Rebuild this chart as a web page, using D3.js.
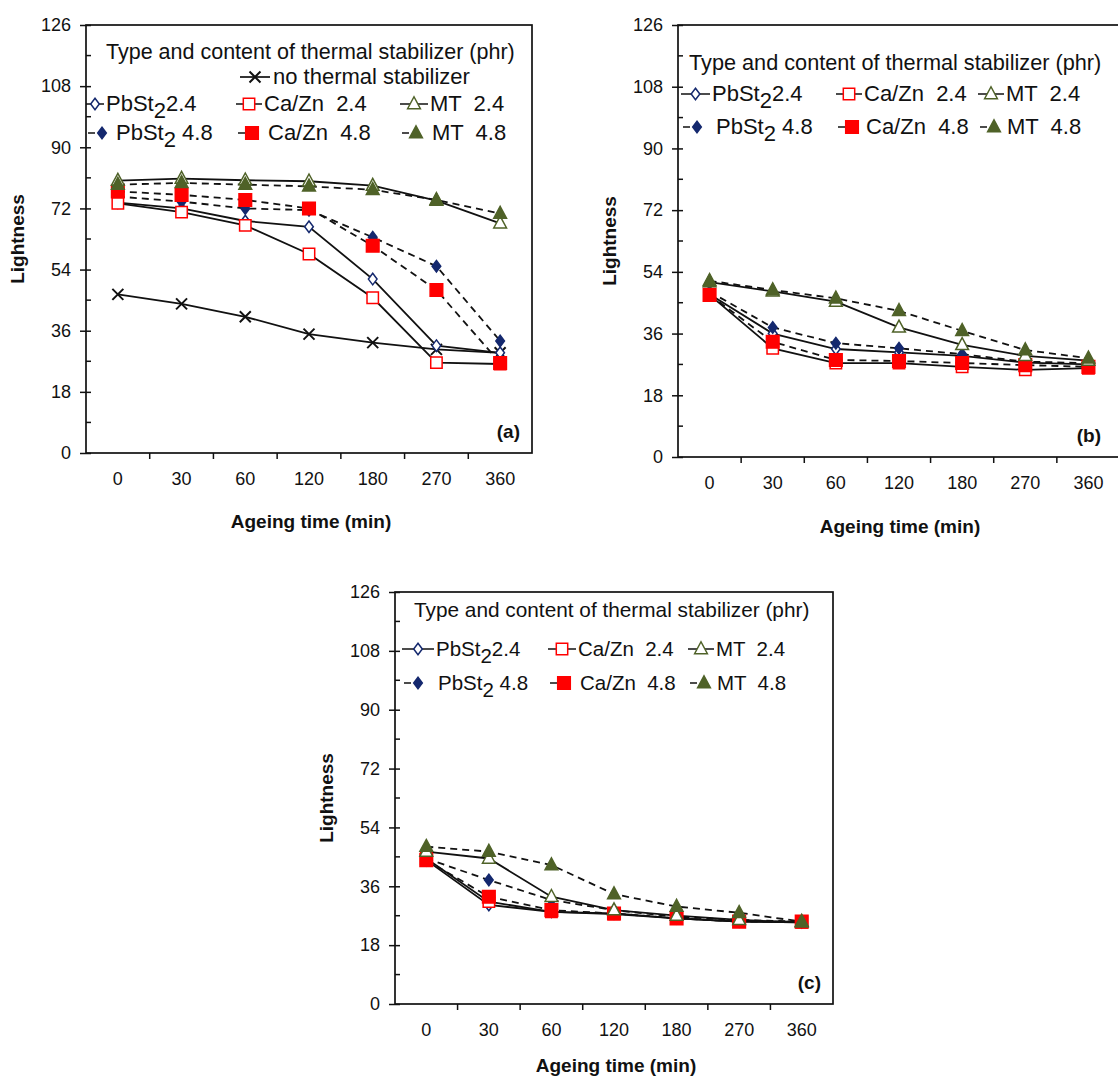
<!DOCTYPE html>
<html>
<head>
<meta charset="utf-8">
<script src="https://cdn.jsdelivr.net/npm/d3@7"></script>
<style>
  body { margin: 0; background: #fff; }
  text { font-family: "Liberation Sans", Arial, sans-serif; fill: #111; white-space: pre; }
</style>
</head>
<body>
<svg id="chart" width="1118" height="1081"></svg>
<script>
'use strict';

// ageing time categories and y ticks
const times = ['0', '30', '60', '120', '180', '270', '360'];
const yTicks = [0, 18, 36, 54, 72, 90, 108, 126];

// panel (a)
const aNone = [46.7, 43.9, 40.1, 35.0, 32.5, 30.5, 29.5];
const aPb24 = [73.7, 72.0, 68.3, 66.6, 51.2, 31.6, 29.5];
const aPb48 = [75.5, 74.0, 72.0, 71.5, 63.5, 55.0, 33.0];
const aCa24 = [73.5, 70.9, 67.0, 58.6, 45.7, 26.6, 26.2];
const aCa48 = [77.0, 76.0, 74.5, 72.0, 61.0, 48.0, 26.5];
const aMt24 = [80.2, 80.8, 80.3, 80.0, 78.7, 74.3, 67.6];
const aMt48 = [79.0, 79.5, 79.0, 78.5, 77.5, 74.5, 70.5];

// panel (b)
const bPb24 = [47.5, 36.0, 31.5, 30.5, 29.5, 27.5, 27.0];
const bPb48 = [48.2, 37.8, 33.2, 31.7, 30.0, 27.8, 27.4];
const bCa24 = [47.3, 31.7, 27.4, 27.4, 26.3, 25.4, 25.9];
const bCa48 = [47.3, 33.6, 28.3, 28.0, 27.4, 26.8, 26.3];
const bMt24 = [51.0, 48.3, 45.3, 37.8, 32.7, 29.5, 28.1];
const bMt48 = [51.4, 48.7, 46.3, 42.6, 36.8, 31.2, 28.8];

// panel (c)
const cPb24 = [44.0, 30.3, 28.2, 27.7, 26.2, 25.2, 25.0];
const cPb48 = [44.5, 37.9, 31.8, 28.7, 26.7, 25.7, 25.2];
const cCa24 = [44.5, 31.3, 28.2, 27.5, 26.2, 25.2, 25.0];
const cCa48 = [44.0, 32.8, 28.7, 27.7, 26.2, 25.2, 25.2];
const cMt24 = [46.6, 44.5, 32.8, 28.7, 27.0, 25.7, 25.0];
const cMt48 = [48.1, 46.6, 42.5, 33.6, 29.8, 27.9, 25.2];

const NAVY = '#14286e';
const RED = '#ff0000';
const OLIVE = '#4f6228';

const STYLES = {
    none: {shape: 'x', color: '#111', filled: false, dash: false},
    pb24: {shape: 'diamond', color: NAVY, filled: false, dash: false},
    pb48: {shape: 'diamond', color: NAVY, filled: true, dash: true},
    ca24: {shape: 'square', color: RED, filled: false, dash: false},
    ca48: {shape: 'square', color: RED, filled: true, dash: true},
    mt24: {shape: 'triangle', color: OLIVE, filled: false, dash: false},
    mt48: {shape: 'triangle', color: OLIVE, filled: true, dash: true}
};

const panels = [
    {
        label: '(a)', x0: 86, x1: 532, y0: 25, y1: 453, titleDy: 75,
        series: {none: aNone, pb24: aPb24, pb48: aPb48, ca24: aCa24, ca48: aCa48, mt24: aMt24, mt48: aMt48},
        legend: {
            title: [106, 59], titleFont: 21.5, font: 22, none: [240, 84],
            row1: 111, row2: 140,
            cols: [[86, 106, 116], [236, 264, 268], [400, 430, 432]]
        }
    },
    {
        label: '(b)', x0: 678, x1: 1120, y0: 25, y1: 457, titleDy: 76,
        series: {pb24: bPb24, pb48: bPb48, ca24: bCa24, ca48: bCa48, mt24: bMt24, mt48: bMt48},
        legend: {
            title: [689, 70], titleFont: 21.7, font: 22,
            row1: 101, row2: 134,
            cols: [[681, 712, 716], [836, 864, 866], [978, 1006, 1007]]
        }
    },
    {
        label: '(c)', x0: 395, x1: 833, y0: 592, y1: 1004, titleDy: 68,
        series: {pb24: cPb24, pb48: cPb48, ca24: cCa24, ca48: cCa48, mt24: cMt24, mt48: cMt48},
        legend: {
            title: [414, 617], titleFont: 20.8, font: 20.5,
            row1: 656, row2: 690,
            cols: [[402, 436, 438], [548, 578, 580], [688, 716, 717]]
        }
    }
];

const svg = d3.select('#chart');

function markerPath(shape, r) {
    if (shape === 'diamond') {
        return `M0,${-r * 1.2}L${r * 0.9},0L0,${r * 1.2}L${-r * 0.9},0Z`;
    }
    if (shape === 'square') {
        return `M${-r},${-r}h${2 * r}v${2 * r}h${-2 * r}Z`;
    }
    if (shape === 'triangle') {
        return `M0,${-r * 1.25}L${r * 1.1},${r * 0.8}L${-r * 1.1},${r * 0.8}Z`;
    }
    return `M${-r},${-r}L${r},${r}M${-r},${r}L${r},${-r}`;
}

function markerSize(key) {
    const s = STYLES[key];
    if (s.shape === 'square') return s.filled ? 6.3 : 5.7;
    if (s.shape === 'triangle') return 5.8;
    if (s.shape === 'diamond') return 4.8;
    return 5.5;
}

function drawMarker(g, key, cx, cy) {
    const s = STYLES[key];
    g.append('path')
        .attr('transform', `translate(${cx},${cy})`)
        .attr('d', markerPath(s.shape, markerSize(key)))
        .attr('fill', s.shape === 'x' ? 'none' : (s.filled ? s.color : '#fff'))
        .attr('stroke', s.color)
        .attr('stroke-width', s.shape === 'x' ? 2 : 1.5);
}

function drawPanel(p) {
    const g = svg.append('g');

    const x = d3.scaleBand().domain(times).range([p.x0, p.x1]);
    const y = d3.scaleLinear().domain([0, 126]).range([p.y1, p.y0]);

    // frame
    g.append('rect')
        .attr('x', p.x0).attr('y', p.y0)
        .attr('width', p.x1 - p.x0).attr('height', p.y1 - p.y0)
        .attr('fill', 'none').attr('stroke', '#111').attr('stroke-width', 1.7);

    // y axis
    const gy = g.append('g')
        .attr('transform', `translate(${p.x0},0)`)
        .call(d3.axisLeft(y).tickValues(yTicks).tickSize(6).tickPadding(9));
    gy.select('.domain').remove();
    gy.selectAll('.tick line').attr('stroke', '#111').attr('stroke-width', 1.5);
    gy.selectAll('.tick').append('line').attr('x2', 5).attr('stroke', '#111').attr('stroke-width', 1.5);
    gy.selectAll('.tick text').attr('font-size', 18).attr('fill', '#111');
    gy.selectAll('.minor')
        .data(d3.range(9, 126, 18))
        .enter()
        .append('line')
        .attr('x1', 0).attr('x2', 5)
        .attr('y1', (d) => y(d)).attr('y2', (d) => y(d))
        .attr('stroke', '#111').attr('stroke-width', 1.5);

    // x axis labels
    const gx = g.append('g')
        .attr('transform', `translate(0,${p.y1})`)
        .call(d3.axisBottom(x).tickSize(0).tickPadding(19));
    gx.select('.domain').remove();
    gx.selectAll('.tick text').attr('font-size', 18).attr('fill', '#111');

    // x ticks on category boundaries
    g.selectAll('.xb')
        .data(d3.range(1, times.length))
        .enter()
        .append('line')
        .attr('x1', (i) => p.x0 + i * x.step()).attr('x2', (i) => p.x0 + i * x.step())
        .attr('y1', p.y1).attr('y2', p.y1 + 6)
        .attr('stroke', '#111').attr('stroke-width', 1.5);

    // axis titles
    g.append('text')
        .attr('transform', `translate(${p.x0 - 62},${(p.y0 + p.y1) / 2}) rotate(-90)`)
        .attr('text-anchor', 'middle')
        .attr('font-size', 19).attr('font-weight', 'bold')
        .text('Lightness');
    g.append('text')
        .attr('x', (p.x0 + Math.min(p.x1, 1118)) / 2 + 2).attr('y', p.y1 + p.titleDy)
        .attr('text-anchor', 'middle')
        .attr('font-size', 19).attr('font-weight', 'bold')
        .text('Ageing time (min)');
    g.append('text')
        .attr('x', Math.min(p.x1, 1113) - 12).attr('y', p.y1 - 15)
        .attr('text-anchor', 'end')
        .attr('font-size', 19).attr('font-weight', 'bold')
        .text(p.label);

    const keys = Object.keys(p.series);
    const line = d3.line()
        .x((d, i) => x(times[i]) + x.bandwidth() / 2)
        .y((d) => y(d));

    keys.forEach((key) => {
        g.append('path')
            .datum(p.series[key])
            .attr('d', line)
            .attr('fill', 'none')
            .attr('stroke', '#111')
            .attr('stroke-width', 1.8)
            .attr('stroke-dasharray', STYLES[key].dash ? '7,5' : null);
    });

    keys.forEach((key) => {
        p.series[key].forEach((v, i) => {
            drawMarker(g, key, x(times[i]) + x.bandwidth() / 2, y(v));
        });
    });

    drawLegend(g, p.legend, keys.includes('none'));
}

function legendText(g, tx, ty, size, parts) {
    const t = g.append('text').attr('x', tx).attr('y', ty).attr('font-size', size);
    parts.forEach(([str, dy]) => {
        t.append('tspan').attr('dy', dy).text(str);
    });
}

function drawLegend(g, lg, hasNone) {
    g.append('text')
        .attr('x', lg.title[0]).attr('y', lg.title[1])
        .attr('font-size', lg.titleFont)
        .text('Type and content of thermal stabilizer (phr)');

    if (hasNone) {
        const [lx, ly] = lg.none;
        g.append('line')
            .attr('x1', lx).attr('x2', lx + 30)
            .attr('y1', ly - 7).attr('y2', ly - 7)
            .attr('stroke', '#111').attr('stroke-width', 1.7);
        drawMarker(g, 'none', lx + 15, ly - 7);
        legendText(g, lx + 33, ly, lg.font, [['no thermal stabilizer', 0]]);
    }

    const rows = [
        [lg.row1, ['pb24', 'ca24', 'mt24'], ['2.4', 'Ca/Zn  2.4', 'MT  2.4']],
        [lg.row2, ['pb48', 'ca48', 'mt48'], ['4.8', 'Ca/Zn  4.8', 'MT  4.8']]
    ];
    rows.forEach(([ry, keys, labels], r) => {
        keys.forEach((key, c) => {
            const [lx, tx1, tx2] = lg.cols[c];
            const cy = ry - 7;
            if (r === 0) {
                g.append('line')
                    .attr('x1', lx).attr('x2', tx1 - 2)
                    .attr('y1', cy).attr('y2', cy)
                    .attr('stroke', '#111').attr('stroke-width', 1.5);
                drawMarker(g, key, (lx + tx1 - 2) / 2, cy);
            } else {
                g.append('line')
                    .attr('x1', lx + 2).attr('x2', lx + 9)
                    .attr('y1', cy).attr('y2', cy)
                    .attr('stroke', '#111').attr('stroke-width', 1.5);
                drawMarker(g, key, lx + 16, cy);
            }
            const tx = r === 0 ? tx1 : tx2;
            if (c === 0) {
                legendText(g, tx, ry, lg.font, [['PbSt', 0], ['2', 7], [r === 0 ? '2.4' : ' 4.8', -7]]);
            } else {
                legendText(g, tx, ry, lg.font, [[labels[c], 0]]);
            }
        });
    });
}

panels.forEach(drawPanel);
</script>
</body>
</html>
